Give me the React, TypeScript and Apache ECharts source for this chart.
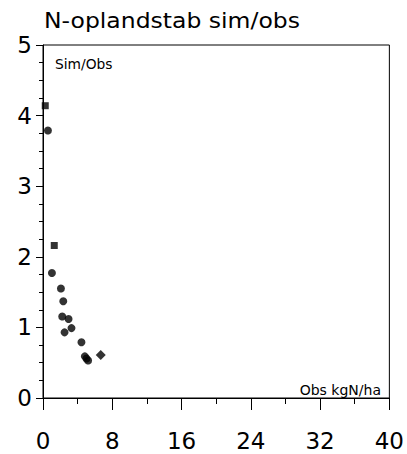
import React, { useEffect, useRef } from "react";
import * as echarts from "echarts";

// Data
const obsKgNHa = [0.26, 0.57, 1.3, 1.03, 2.07, 2.34, 2.22, 2.95, 3.29, 2.49, 4.44, 4.83, 5.02, 5.21, 6.67];
const simObsRatio = [4.14, 3.79, 2.16, 1.77, 1.55, 1.37, 1.155, 1.12, 0.99, 0.93, 0.79, 0.59, 0.56, 0.53, 0.61];
const markerShapes = ["rect", "circle", "rect", "circle", "circle", "circle", "circle", "circle", "circle", "circle", "circle", "circle", "circle", "circle", "diamond"];

const titleText = "N-oplandstab sim/obs";
const yAxisTitle = "Sim/Obs";
const xAxisTitle = "Obs kgN/ha";

const FONT = "DejaVu Sans";

export default function App() {
  const ref = useRef<HTMLDivElement>(null);
  useEffect(() => {
    if (!ref.current) return;
    const chart = echarts.init(ref.current, null, { renderer: "svg" });
    const points = obsKgNHa.map((x, i) => ({
      value: [x, simObsRatio[i]],
      symbol: markerShapes[i],
      symbolSize: markerShapes[i] === "diamond" ? 10 : markerShapes[i] === "rect" ? 7 : 8,
    }));
    chart.setOption({
      animation: false,
      backgroundColor: "#ffffff",
      grid: {
        left: 43,
        right: 16,
        top: 45,
        bottom: 56,
        show: true,
        borderColor: "#000",
        borderWidth: 1,
        backgroundColor: "transparent",
      },
      xAxis: {
        type: "value",
        min: 0,
        max: 40,
        interval: 8,
        axisLine: { show: true, onZero: false, lineStyle: { color: "#000", width: 1 } },
        axisTick: { show: true, inside: false, length: 12, lineStyle: { color: "#000", width: 1 } },
        minorTick: { show: true, splitNumber: 2, length: 6, lineStyle: { color: "#000", width: 1 } },
        splitLine: { show: false },
        axisLabel: { color: "#000", fontFamily: FONT, fontSize: 23, margin: 31 },
      },
      yAxis: {
        type: "value",
        min: 0,
        max: 5,
        interval: 1,
        axisLine: { show: true, onZero: false, lineStyle: { color: "#000", width: 1 } },
        axisTick: { show: true, inside: false, length: 7, lineStyle: { color: "#000", width: 1 } },
        minorTick: { show: true, splitNumber: 4, length: 4, lineStyle: { color: "#000", width: 1 } },
        splitLine: { show: false },
        axisLabel: { color: "#000", fontFamily: FONT, fontSize: 23, margin: 11 },
      },
      graphic: [
        {
          type: "text",
          x: 44,
          y: 20,
          scaleX: 1.12,
          style: { text: titleText, fill: "#000", font: `21px '${FONT}'`, verticalAlign: "middle" },
        },
        {
          type: "text",
          x: 55,
          y: 63.5,
          style: { text: yAxisTitle, fill: "#000", font: `13.8px '${FONT}'`, verticalAlign: "middle" },
        },
        {
          type: "text",
          x: 381,
          y: 389.5,
          style: { text: xAxisTitle, fill: "#000", font: `14px '${FONT}'`, align: "right", verticalAlign: "middle" },
        },
      ],
      series: [
        {
          type: "scatter",
          data: points,
          itemStyle: { color: "#000" },
        },
      ],
    });
    return () => chart.dispose();
  }, []);
  return (
    <div
      ref={ref}
      style={{ position: "absolute", left: 0, top: 0, width: 407, height: 454 }}
    />
  );
}
